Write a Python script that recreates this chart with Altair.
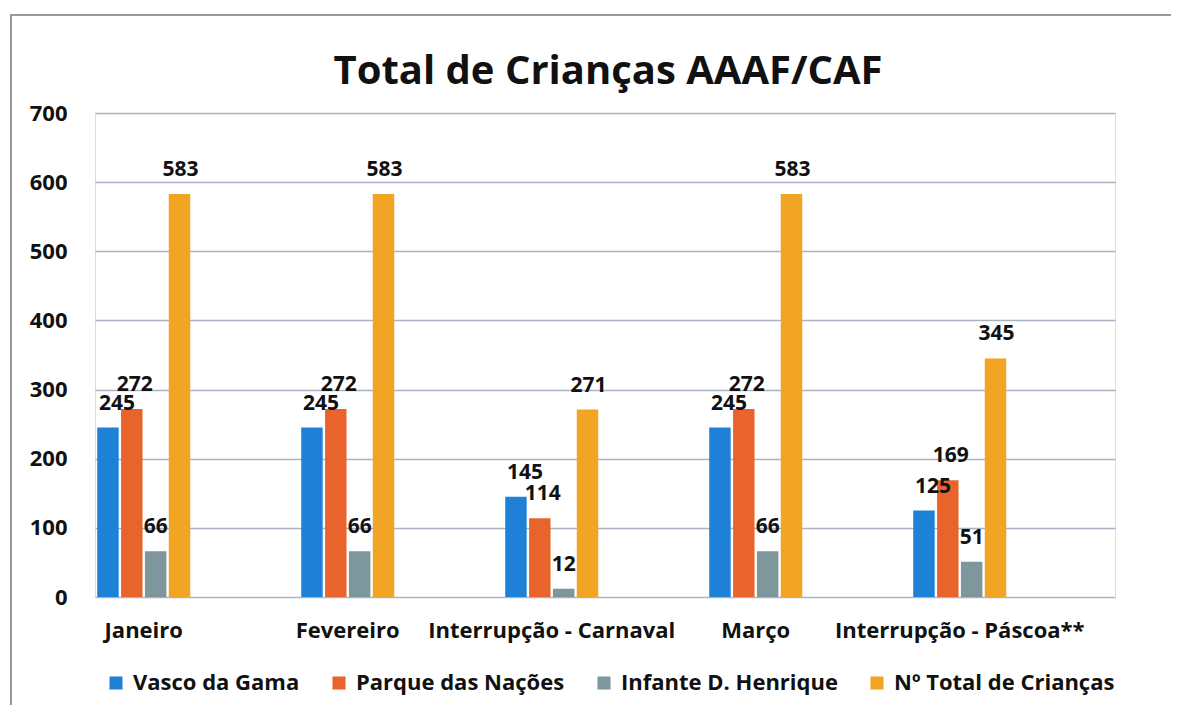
import altair as alt
import pandas as pd

categories = ["Janeiro", "Fevereiro", "Interrupção - Carnaval", "Março", "Interrupção - Páscoa**"]
series = ["Vasco da Gama", "Parque das Nações", "Infante D. Henrique", "Nº Total de Crianças"]
vasco = [245, 245, 145, 245, 125]
parque = [272, 272, 114, 272, 169]
infante = [66, 66, 12, 66, 51]
total = [583, 583, 271, 583, 345]
colors = ["#1f80d8", "#e8642c", "#7d979c", "#f2a424"]
title_text = "Total de Crianças AAAF/CAF"

rows = []
for s, vals in zip(series, [vasco, parque, infante, total]):
    for c, v in zip(categories, vals):
        rows.append({"Mês": c, "Série": s, "Valor": v})
df = pd.DataFrame(rows)

FONT = "Open Sans"

x = alt.X("Mês:N", sort=categories, title=None,
          scale=alt.Scale(paddingInner=0.544, paddingOuter=0.272, align=0.02),
          axis=alt.Axis(labelAngle=0, labelFontSize=22, labelFontWeight="bold",
                        labelColor="#111111", labelFont=FONT, domain=False, ticks=False,
                        labelPadding=23, labelLimit=0))
xo = alt.XOffset("Série:N", sort=series, scale=alt.Scale(paddingInner=0.1))
y = alt.Y("Valor:Q", title=None,
          scale=alt.Scale(domain=[0, 700]),
          axis=alt.Axis(values=list(range(0, 701, 100)), labelFontSize=22, labelFontWeight="bold",
                        labelColor="#111111", labelFont=FONT, domain=False, ticks=False,
                        labelPadding=28, grid=True, gridColor="#a9b3c2", gridWidth=1.5))
color = alt.Color("Série:N", sort=series, title=None,
                  scale=alt.Scale(domain=series, range=colors),
                  legend=alt.Legend(orient="none", legendX=10, legendY=559, direction="horizontal",
                                    symbolType="square", symbolSize=170, symbolStrokeWidth=0,
                                    labelFontSize=22, labelFontWeight="bold", labelFont=FONT,
                                    labelColor="#111111", columnPadding=28, symbolOffset=0,
                                    labelOffset=6, labelLimit=0))

bars = alt.Chart(df).mark_bar().encode(x=x, xOffset=xo, y=y, color=color)

layers = [bars]
dxs = [9, 3, 0, 1]
for s, d in zip(series, dxs):
    t = alt.Chart(df).transform_filter(alt.datum["Série"] == s).mark_text(
        font=FONT, fontSize=21, fontWeight="bold", color="#111111",
        baseline="alphabetic", dy=-18, dx=d
    ).encode(x=x, xOffset=xo, y=y, text="Valor:Q")
    layers.append(t)

# chart title as a text mark (so the frame lines do not push it away)
title_mark = alt.Chart(pd.DataFrame({"t": [title_text]})).mark_text(
    font=FONT, fontSize=40, fontWeight="bold", color="#111111",
    align="center", baseline="alphabetic"
).encode(text="t:N", x=alt.value(513), y=alt.value(-29))
layers.append(title_mark)

# chart-area frame (top and left edges, as in the reference)
frame_top = alt.Chart(df).mark_rule(color="#9a9a9a", strokeWidth=2).encode(
    x=alt.value(-85), x2=alt.value(1092), y=alt.value(-98))
frame_left = alt.Chart(df).mark_rule(color="#9a9a9a", strokeWidth=2).encode(
    x=alt.value(-84), y=alt.value(-98), y2=alt.value(600))
layers += [frame_top, frame_left]

chart = alt.layer(*layers).properties(
    width=1020, height=484,
    autosize=alt.AutoSizeParams(type="none"),
    padding={"left": 87, "top": 105, "right": 56, "bottom": 108},
).configure_view(stroke=None).configure(background="#ffffff")

chart.save("out.html", embed_options={"renderer": "svg", "actions": False})
